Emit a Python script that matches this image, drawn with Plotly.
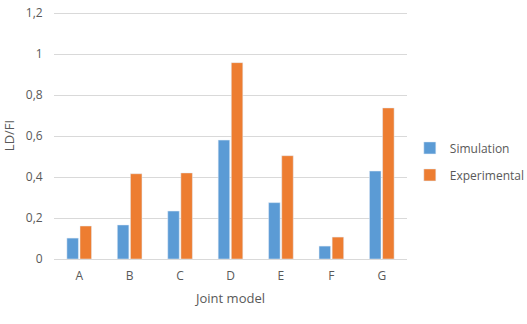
import plotly.graph_objects as go

models = ["A", "B", "C", "D", "E", "F", "G"]
simulation = [0.102, 0.166, 0.234, 0.58, 0.275, 0.063, 0.429]
experimental = [0.161, 0.416, 0.42, 0.958, 0.504, 0.107, 0.737]

font = dict(family="Open Sans, Noto Sans, sans-serif", size=12, color="#595959")

fig = go.Figure()
fig.add_bar(x=models, y=simulation, name="Simulation",
            marker_color="#5B9BD5", legendgroup="s")
fig.add_bar(x=models, y=experimental, name="Experimental",
            marker_color="#ED7D31", legendgroup="e")

fig.update_layout(
    width=527, height=324,
    margin=dict(l=54, r=120, t=12, b=65, autoexpand=False),
    paper_bgcolor="white", plot_bgcolor="white",
    font=font,
    separators=", ",
    bargap=0.48, bargroupgap=0.12,
    legend=dict(x=1.008, y=0.395, xanchor="left", yanchor="middle",
                tracegroupgap=8, itemwidth=30, font=dict(size=12)),
)
fig.update_xaxes(
    title=dict(text="Joint model", font=dict(size=13), standoff=10),
    showline=True, linecolor="#D9D9D9", linewidth=1,
    ticks="outside", ticklen=6, tickcolor="rgba(0,0,0,0)",
)
fig.update_yaxes(
    title=dict(text="LD/FI", font=dict(size=13), standoff=14),
    range=[0, 1.205], tickvals=[0, 0.2, 0.4, 0.6, 0.8, 1, 1.2],
    gridcolor="#D9D9D9", zeroline=False,
    ticks="outside", ticklen=8, tickcolor="rgba(0,0,0,0)",
)

# drop the default 8px page margin so the chart fills the window
fig.write_html("out.html", config={"displayModeBar": False},
               post_script="document.body.style.margin = '0';")
